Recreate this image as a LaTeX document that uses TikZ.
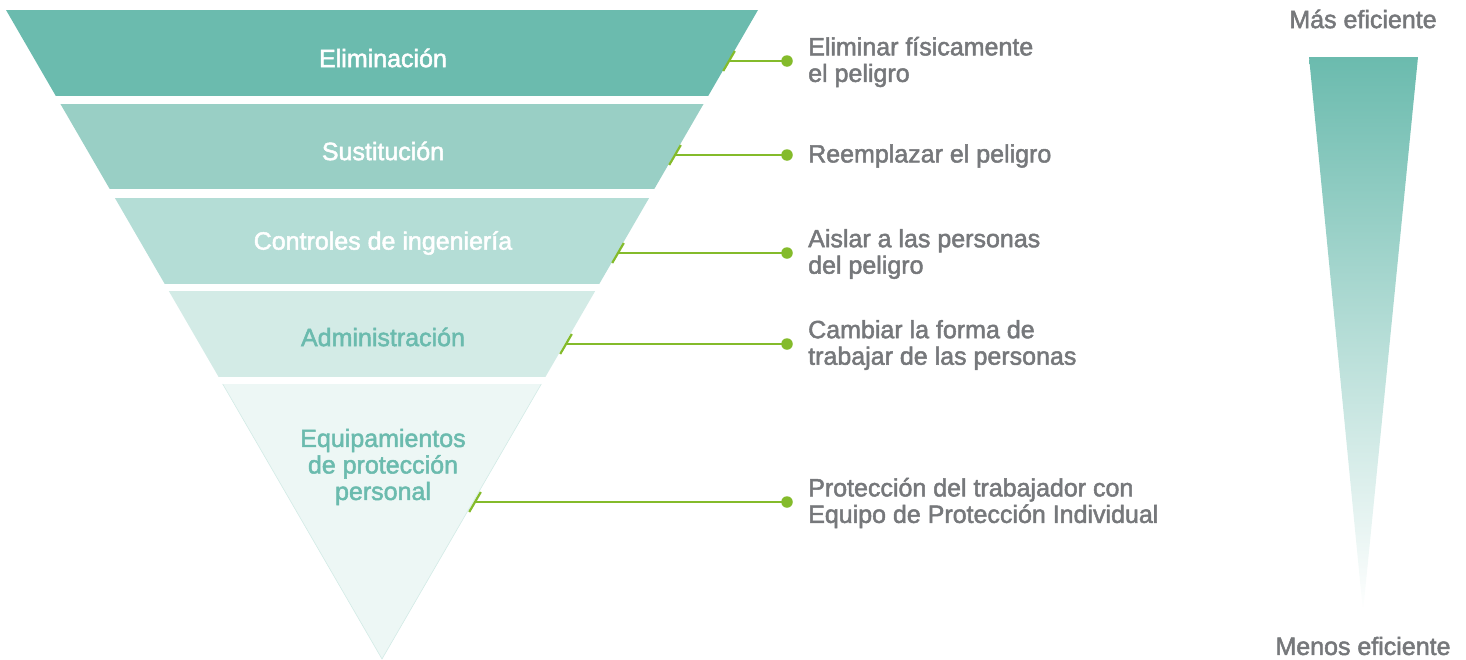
\documentclass[tikz,border=0pt]{standalone}
\usepackage{fontspec}
\setmainfont{Liberation Sans}[FakeBold=2]
\usetikzlibrary{positioning}
\definecolor{teal1}{HTML}{6BBBAE}
\definecolor{teal2}{HTML}{99CFC5}
\definecolor{teal3}{HTML}{B4DDD6}
\definecolor{teal4}{HTML}{D3EBE6}
\definecolor{teal5}{HTML}{EDF7F5}
\definecolor{txtgray}{HTML}{76787B}
\definecolor{lime}{HTML}{84BB2B}
\newcommand{\lvl}{\fontsize{25}{26.5}\selectfont}
\tikzset{
  level/.style={align=center, font=\lvl},
  descr/.style={anchor=west, align=left, text=txtgray, font=\lvl, inner sep=0pt},
  tick/.style={lime, line width=2.2pt},
  link/.style={lime, line width=2.2pt},
  dot/.style={circle, fill=lime, inner sep=0pt, minimum size=11.5pt},
}

\begin{document}
\begin{tikzpicture}[x=1pt, y=-1pt]
\useasboundingbox (0,0) rectangle (1466,659);
%%%%%%%%% inverted triangle
\begin{scope}
\clip (6,10) -- (758,10) -- (382,659) -- cycle;
\fill [teal1] (0,10) rectangle (770,96);
\fill [teal2] (0,104) rectangle (770,189);
\fill [teal3] (0,198) rectangle (770,284);
\fill [teal4] (0,291) rectangle (770,377);
\fill [teal5] (0,384) rectangle (770,660);
\end{scope}
\draw [teal4, line width=0.6pt] (222.7,384) -- (382,659) -- (541.3,384);
%%%%%%%%% level names
\node [level, text=white] (elim) at (383,58) {Eliminación};
\node [level, text=white] (sust) at (383,151) {Sustitución};
\node [level, text=white] (ing) at (383,243) {Controles de ingeniería};
\node [level, text=teal1] (adm) at (383,337) {Administración};
\node [level, text=teal1] (epp) at (383,467) {Equipamientos\\de protección\\personal};
%%%%%%%%% ticks on the edge
\coordinate (t1) at (729,61);
\coordinate (t2) at (675,155);
\coordinate (t3) at (618,253);
\coordinate (t4) at (566,344);
\coordinate (t5) at (475,502);
\draw [tick] ([shift={(5.8,-10)}]t1) -- ([shift={(-5.8,10)}]t1);
\draw [tick] ([shift={(5.8,-10)}]t2) -- ([shift={(-5.8,10)}]t2);
\draw [tick] ([shift={(5.8,-10)}]t3) -- ([shift={(-5.8,10)}]t3);
\draw [tick] ([shift={(5.8,-10)}]t4) -- ([shift={(-5.8,10)}]t4);
\draw [tick] ([shift={(5.8,-10)}]t5) -- ([shift={(-5.8,10)}]t5);
%%%%%%%%% dots and descriptions
\node [dot] (d1) at (787,61) {};
\node [dot] (d2) at (787,155) {};
\node [dot] (d3) at (787,253) {};
\node [dot] (d4) at (787,344) {};
\node [dot] (d5) at (787,502) {};
\draw [link] (t1) -- (d1.center);
\draw [link] (t2) -- (d2.center);
\draw [link] (t3) -- (d3.center);
\draw [link] (t4) -- (d4.center);
\draw [link] (t5) -- (d5.center);
\node [descr] (r1) at (808,62) {Eliminar físicamente\\el peligro};
\node [descr] (r2) at (808,156) {Reemplazar el peligro};
\node [descr] (r3) at (808,254) {Aislar a las personas\\del peligro};
\node [descr] (r4) at (808,345) {Cambiar la forma de\\trabajar de las personas};
\node [descr] (r5) at (808,503) {Protección del trabajador con\\Equipo de Protección Individual};
%%%%%%%%% efficiency scale
\shade [top color=teal1, bottom color=white] (1309,57) -- (1418,57) -- (1363,612) -- cycle;
\node [text=txtgray, font=\lvl] (mas) at (1363,19) {Más eficiente};
\node [text=txtgray, font=\lvl] (menos) at (1363,646) {Menos eficiente};
\end{tikzpicture}
\end{document}
